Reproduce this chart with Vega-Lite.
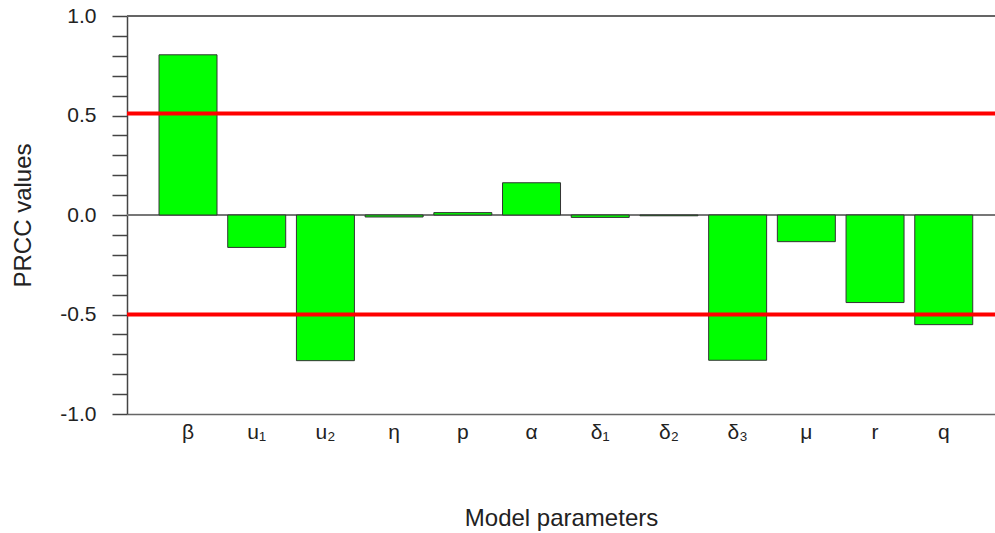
{
  "$schema": "https://vega.github.io/schema/vega-lite/v6.json",
  "autosize": "none",
  "width": 868,
  "height": 398,
  "padding": {"left": 127, "top": 16, "right": 0, "bottom": 119},
  "background": "white",
  "config": {
    "view": {"stroke": null},
    "font": "Liberation Sans",
    "axis": {"labelFont": "Liberation Sans", "titleFont": "Liberation Sans", "labelColor": "#222", "titleColor": "#222", "titleFontWeight": "normal"}
  },
  "data": {
    "values": [
      {"param": "β", "prcc": 0.805},
      {"param": "u₁", "prcc": -0.163},
      {"param": "u₂", "prcc": -0.732},
      {"param": "η", "prcc": -0.01},
      {"param": "p", "prcc": 0.012},
      {"param": "α", "prcc": 0.162},
      {"param": "δ₁", "prcc": -0.012},
      {"param": "δ₂", "prcc": -0.004},
      {"param": "δ₃", "prcc": -0.73},
      {"param": "μ", "prcc": -0.134},
      {"param": "r", "prcc": -0.44},
      {"param": "q", "prcc": -0.551}
    ]
  },
  "layer": [
    {
      "mark": {"type": "rule", "color": "#777", "strokeWidth": 1.5},
      "encoding": {"y": {"datum": 0, "type": "quantitative"}}
    },
    {
      "mark": {"type": "bar", "fill": "#00ff00", "stroke": "#333", "strokeWidth": 1},
      "encoding": {
        "x": {
          "field": "param", "type": "nominal", "sort": null,
          "scale": {"paddingInner": 0.156, "paddingOuter": 0.395, "align": 0.59},
          "axis": {
            "title": "Model parameters", "titleFontSize": 24, "titlePadding": 64,
            "labelAngle": 0, "labelFontSize": 21, "labelPadding": 7,
            "ticks": false, "tickSize": 0,
            "domainColor": "#666", "domainWidth": 1.5
          }
        },
        "y": {
          "field": "prcc", "type": "quantitative",
          "scale": {"domain": [-1, 1], "nice": false, "zero": false},
          "axis": {
            "title": "PRCC values", "titleFontSize": 24, "titlePadding": 24,
            "values": [-1, -0.9, -0.8, -0.7, -0.6, -0.5, -0.4, -0.3, -0.2, -0.1, 0, 0.1, 0.2, 0.3, 0.4, 0.5, 0.6, 0.7, 0.8, 0.9, 1],
            "tickCount": 40,
            "labelExpr": "abs(datum.value*2-round(datum.value*2))<0.001 ? replace(format(datum.value,'.1f'),'\u2212','-') : ''",
            "labelOverlap": false, "labelBound": false, "labelFlush": false,
            "labelFontSize": 21, "labelPadding": 16,
            "tickSize": 15, "tickColor": "#444", "tickWidth": 1.5,
            "domainColor": "#444", "domainWidth": 1.5,
            "grid": false
          }
        }
      }
    },
    {
      "mark": {"type": "rule", "color": "#666", "strokeWidth": 1.5},
      "encoding": {"y": {"datum": 1, "type": "quantitative"}}
    },
    {
      "data": {"values": [{"threshold": 0.51}, {"threshold": -0.5}]},
      "mark": {"type": "rule", "color": "#ff0000", "strokeWidth": 4},
      "encoding": {"y": {"field": "threshold", "type": "quantitative"}}
    }
  ]
}
